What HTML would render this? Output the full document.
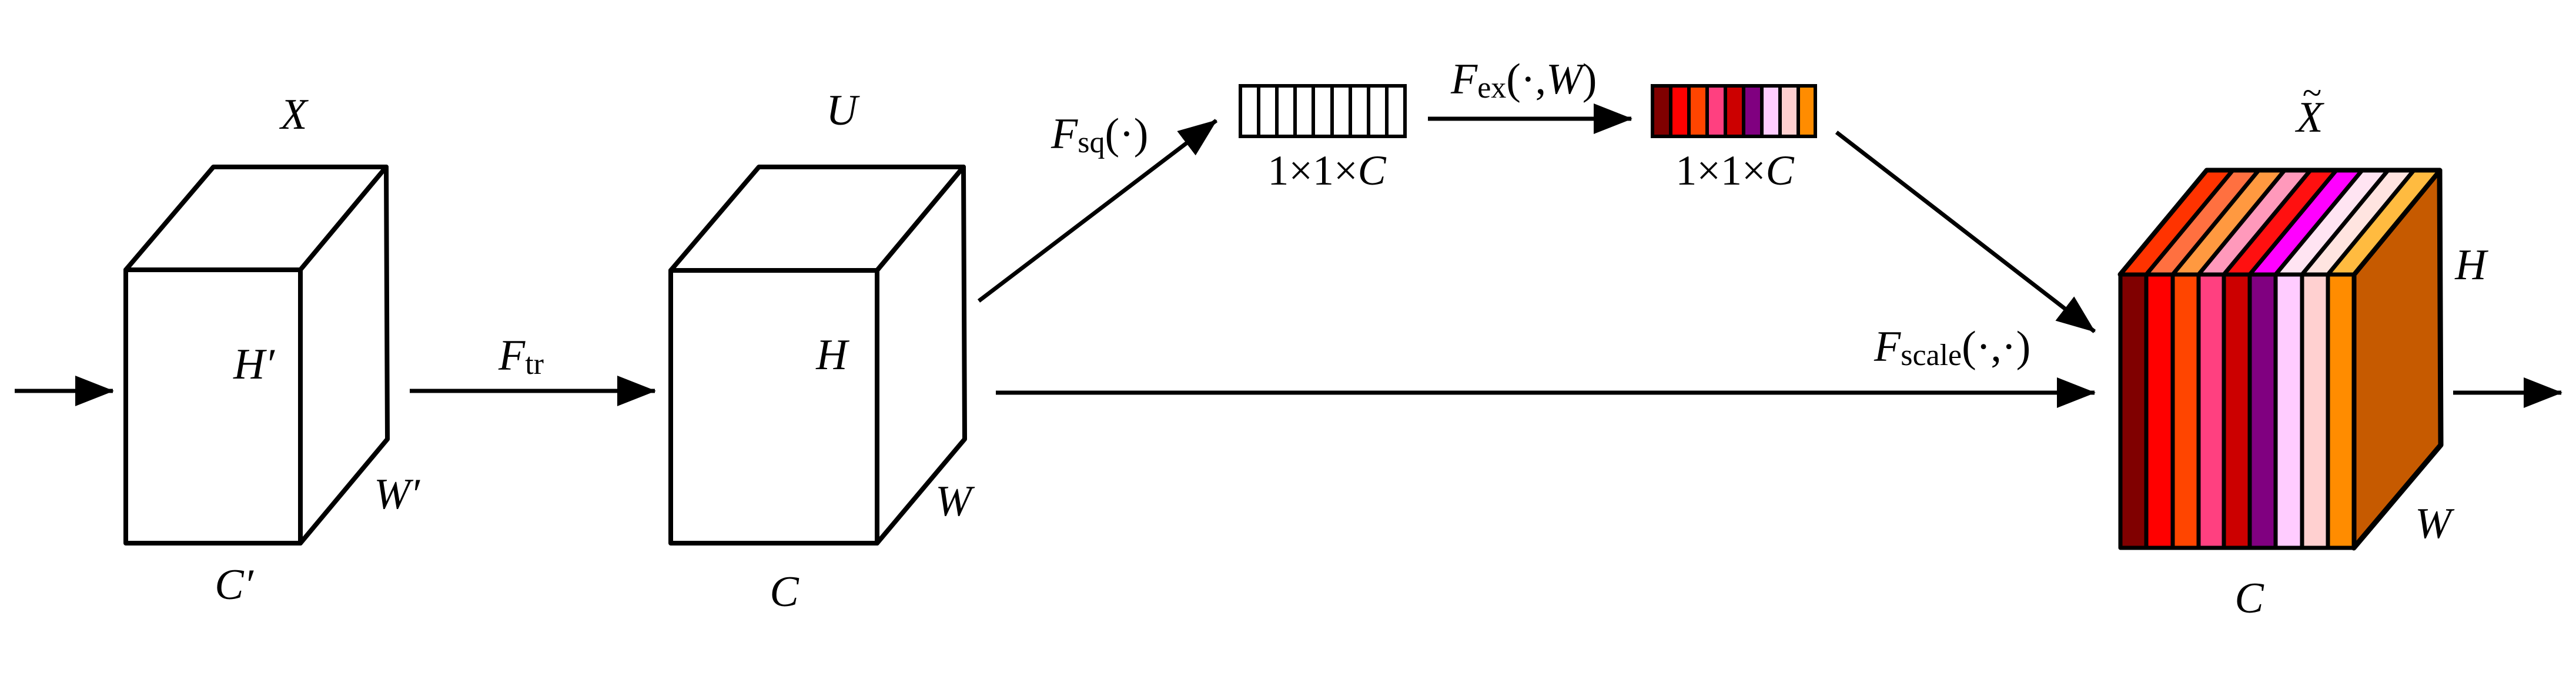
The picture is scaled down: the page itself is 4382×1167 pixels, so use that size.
<!DOCTYPE html>
<html><head><meta charset="utf-8"><style>
html,body{margin:0;padding:0;background:#fff;width:4382px;height:1167px;overflow:hidden}
svg{display:block}
text{font-family:"Liberation Serif","DejaVu Serif",serif;fill:#000}
.v{font-style:italic;font-size:74px}
.s{font-size:52px;font-style:normal}
.n{font-size:72px}
</style></head><body>
<svg width="4382" height="1167" viewBox="0 0 4382 1167" xmlns="http://www.w3.org/2000/svg" font-family="Liberation Serif, DejaVu Serif, serif">
<defs>
<marker id="ah" markerUnits="userSpaceOnUse" markerWidth="66" markerHeight="54" refX="64" refY="26" orient="auto">
<path d="M0,0 L66,26 L0,52 Z" fill="#000"/>
</marker>
</defs>
<g stroke="#000" stroke-width="7" fill="none" stroke-linecap="butt">
<line x1="25" y1="665" x2="192" y2="665" marker-end="url(#ah)"/>
<line x1="697" y1="665" x2="1114" y2="665" marker-end="url(#ah)"/>
<line x1="1694" y1="668" x2="3563" y2="668" marker-end="url(#ah)"/>
<line x1="1665" y1="512" x2="2069" y2="205" marker-end="url(#ah)"/>
<line x1="2429" y1="202" x2="2775" y2="202" marker-end="url(#ah)"/>
<line x1="3124" y1="225" x2="3563" y2="564" marker-end="url(#ah)"/>
<line x1="4173" y1="668" x2="4357" y2="668" marker-end="url(#ah)"/>
</g>
<!-- X cube -->
<g stroke="#000" stroke-width="8" fill="#fff" stroke-linejoin="round">
<path d="M214,459 L363,284 L657,284 L511,459 Z"/>
<path d="M511,459 L657,284 L659,747 L511,924 Z"/>
<rect x="214" y="459" width="297" height="465"/>
</g>
<!-- U cube -->
<g stroke="#000" stroke-width="8" fill="#fff" stroke-linejoin="round">
<path d="M1141,460 L1291,284 L1639,284 L1492,460 Z"/>
<path d="M1492,460 L1639,284 L1641,747 L1492,924 Z"/>
<rect x="1141" y="460" width="351" height="464"/>
</g>
<!-- white bar -->
<g stroke="#000" stroke-width="6" fill="#fff">
<rect x="2110" y="146" width="280" height="86"/>
<line x1="2141" y1="146" x2="2141" y2="232"/><line x1="2172" y1="146" x2="2172" y2="232"/>
<line x1="2203" y1="146" x2="2203" y2="232"/><line x1="2234" y1="146" x2="2234" y2="232"/>
<line x1="2266" y1="146" x2="2266" y2="232"/><line x1="2297" y1="146" x2="2297" y2="232"/>
<line x1="2328" y1="146" x2="2328" y2="232"/><line x1="2359" y1="146" x2="2359" y2="232"/>
</g>
<!-- colored bar -->
<g stroke="#000" stroke-width="6">
<rect x="2811" y="146" width="277" height="86" fill="#000"/>
<rect x="2814" y="149" width="25" height="80" fill="#800000" stroke="none"/>
<rect x="2845" y="149" width="25" height="80" fill="#ff0000" stroke="none"/>
<rect x="2876" y="149" width="25" height="80" fill="#ff4500" stroke="none"/>
<rect x="2907" y="149" width="25" height="80" fill="#ff4080" stroke="none"/>
<rect x="2938" y="149" width="25" height="80" fill="#cc0000" stroke="none"/>
<rect x="2969" y="149" width="25" height="80" fill="#800080" stroke="none"/>
<rect x="3000" y="149" width="25" height="80" fill="#ffccff" stroke="none"/>
<rect x="3031" y="149" width="25" height="80" fill="#ffd0d0" stroke="none"/>
<rect x="3062" y="149" width="23" height="80" fill="#ff8c00" stroke="none"/>
</g>
<!-- final cube -->
<g stroke="#000" stroke-width="9" stroke-linejoin="round">
<path d="M4004,467 L4150,290 L4152,757 L4004,932 Z" fill="#c65a00"/>
<path d="M3607,467 L3754,290 L4150,290 L4004,467 Z" fill="#000"/>
</g>
<g stroke="#000" stroke-width="7" stroke-linejoin="round">
<path d="M3607,467 L3754,290 L3798,290 L3651,467 Z" fill="#ff3300"/>
<path d="M3651,467 L3798,290 L3842,290 L3696,467 Z" fill="#ff7040"/>
<path d="M3696,467 L3842,290 L3886,290 L3740,467 Z" fill="#ff9940"/>
<path d="M3740,467 L3886,290 L3930,290 L3783,467 Z" fill="#ff99bb"/>
<path d="M3783,467 L3930,290 L3974,290 L3827,467 Z" fill="#ff1010"/>
<path d="M3827,467 L3974,290 L4018,290 L3871,467 Z" fill="#ff00ff"/>
<path d="M3871,467 L4018,290 L4062,290 L3916,467 Z" fill="#ffe4f2"/>
<path d="M3916,467 L4062,290 L4106,290 L3960,467 Z" fill="#ffe4e0"/>
<path d="M3960,467 L4106,290 L4150,290 L4004,467 Z" fill="#ffbb40"/>
<rect x="3607" y="467" width="44" height="465" fill="#800000"/>
<rect x="3651" y="467" width="45" height="465" fill="#ff0000"/>
<rect x="3696" y="467" width="44" height="465" fill="#ff4500"/>
<rect x="3740" y="467" width="43" height="465" fill="#ff4080"/>
<rect x="3783" y="467" width="44" height="465" fill="#cc0000"/>
<rect x="3827" y="467" width="44" height="465" fill="#800080"/>
<rect x="3871" y="467" width="45" height="465" fill="#ffccff"/>
<rect x="3916" y="467" width="44" height="465" fill="#ffd0d0"/>
<rect x="3960" y="467" width="44" height="465" fill="#ff8c00"/>
</g>
<!-- labels -->
<g dominant-baseline="central" text-anchor="middle">
<text class="v" x="500" y="195">X</text>
<text class="v" x="432" y="620">H′</text>
<text class="v" x="675" y="841">W′</text>
<text class="v" x="398" y="995">C′</text>
<text class="v" x="1432" y="188">U</text>
<text class="v" x="1415" y="604">H</text>
<text class="v" x="1622" y="853">W</text>
<text class="v" x="1334" y="1007">C</text>
<text class="v" x="3929" y="200">X</text>
<text x="3933" y="158" font-size="60">~</text>
<text class="v" x="4203" y="451">H</text>
<text class="v" x="4139" y="891">W</text>
<text class="v" x="3826" y="1018">C</text>
<text class="n" x="2257" y="290">1×1×<tspan font-style="italic">C</tspan></text>
<text class="n" x="2951" y="290">1×1×<tspan font-style="italic">C</tspan></text>
</g>
<g dominant-baseline="central">
<text class="v" x="848" y="605">F<tspan class="s" dy="14">tr</tspan></text>
<text class="v" x="1788" y="228">F<tspan class="s" dy="14">sq</tspan><tspan font-style="normal" dy="-14">(·)</tspan></text>
<text class="v" x="2468" y="135">F<tspan class="s" dy="14">ex</tspan><tspan font-style="normal" dy="-14">(·,</tspan>W<tspan font-style="normal">)</tspan></text>
<text class="v" x="3188" y="590">F<tspan class="s" dy="14">scale</tspan><tspan font-style="normal" dy="-14">(·,·)</tspan></text>
</g>
</svg>
</body></html>
